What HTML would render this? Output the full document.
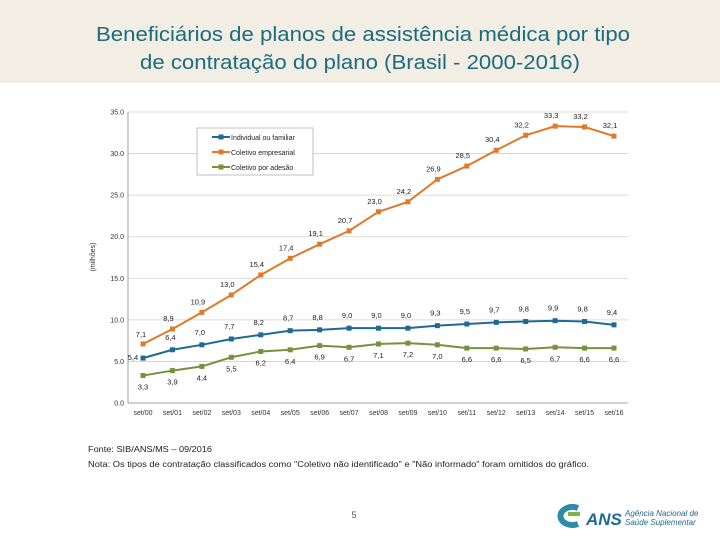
<!DOCTYPE html>
<html><head><meta charset="utf-8"><style>
body{margin:0;width:720px;height:540px;overflow:hidden;background:#fff;font-family:"Liberation Sans",sans-serif}
</style></head><body>
<svg id="s" width="720" height="540" xmlns="http://www.w3.org/2000/svg">
<rect x="0" y="0" width="720" height="83" fill="#F3EEE4"/>
<g fill="#1B6C7E" font-size="20" text-anchor="middle">
<text x="363" y="41" textLength="534" lengthAdjust="spacingAndGlyphs">Beneficiários de planos de assistência médica por tipo</text>
<text x="360" y="69" textLength="440" lengthAdjust="spacingAndGlyphs">de contratação do plano (Brasil - 2000-2016)</text>
</g>
<g id="chart"></g>
<g>
<rect x="197" y="128" width="116" height="47" fill="#fff" stroke="#999" stroke-width="0.6"/>
<g><line x1="212" y1="137" x2="230" y2="137" stroke="#1F6A92" stroke-width="2"/><rect x="218.5" y="134.5" width="5" height="5" fill="#1F6A92"/><text x="231" y="140" font-size="7" fill="#222">Individual ou familiar</text></g>
<g><line x1="212" y1="152" x2="230" y2="152" stroke="#E07A2A" stroke-width="2"/><rect x="218.5" y="149.5" width="5" height="5" fill="#E07A2A"/><text x="231" y="155" font-size="7" fill="#222">Coletivo empresarial</text></g>
<g><line x1="212" y1="167" x2="230" y2="167" stroke="#76923C" stroke-width="2"/><rect x="218.5" y="164.5" width="5" height="5" fill="#76923C"/><text x="231" y="170" font-size="7" fill="#222">Coletivo por adesão</text></g>
</g>
<text x="88" y="250" font-size="7" fill="#333" transform="rotate(-90 95 250)" text-anchor="middle">(milhões)</text>
<text x="88" y="452" font-size="8" fill="#222" textLength="124" lengthAdjust="spacingAndGlyphs">Fonte: SIB/ANS/MS – 09/2016</text>
<text x="88" y="467" font-size="8" fill="#222" textLength="501" lengthAdjust="spacingAndGlyphs">Nota: Os tipos de contratação classificados como "Coletivo não identificado" e "Não informado" foram omitidos do gráfico.</text>
<text x="354" y="518" font-size="9" fill="#555" text-anchor="middle">5</text>
<g>
<path d="M578 508 a12 9 0 1 0 0 16" fill="none" stroke="#2E8BA8" stroke-width="6"/>
<path d="M568 514 l12 0" stroke="#7AB648" stroke-width="4"/>
<text x="586" y="525" font-size="17" font-weight="bold" font-style="italic" fill="#1F6A92">ANS</text>
<text x="625" y="516" font-size="8" font-style="italic" fill="#1F6A92">Agência Nacional de</text>
<text x="625" y="525" font-size="8" font-style="italic" fill="#1F6A92">Saúde Suplementar</text>
</g>
</svg>
<script>
const categories=["set/00","set/01","set/02","set/03","set/04","set/05","set/06","set/07","set/08","set/09","set/10","set/11","set/12","set/13","set/14","set/15","set/16"];
const individual=[5.4,6.4,7.0,7.7,8.2,8.7,8.8,9.0,9.0,9.0,9.3,9.5,9.7,9.8,9.9,9.8,9.4];
const empresarial=[7.1,8.9,10.9,13.0,15.4,17.4,19.1,20.7,23.0,24.2,26.9,28.5,30.4,32.2,33.3,33.2,32.1];
const adesao=[3.3,3.9,4.4,5.5,6.2,6.4,6.9,6.7,7.1,7.2,7.0,6.6,6.6,6.5,6.7,6.6,6.6];
const yTicks=[0,5,10,15,20,25,30,35];
const NS="http://www.w3.org/2000/svg";
const g=document.getElementById('chart');
const X0=143,XS=(614-143)/16,Y0=403,YS=(403-112)/35;
const xs=i=>X0+i*XS, ys=v=>Y0-v*YS;
function mk(t,a){const e=document.createElementNS(NS,t);for(const k in a)e.setAttribute(k,a[k]);g.appendChild(e);return e;}
const fmt=v=>v.toFixed(1).replace('.',',');
yTicks.forEach(t=>{
 const l=mk('line',{x1:128,x2:628,y1:ys(t),y2:ys(t),stroke:t===0?'#888':'#d0d0d0','stroke-width':0.8});
 
 
 const tx=mk('text',{x:124,y:ys(t)+2.5,'font-size':7,fill:'#333','text-anchor':'end'});
 tx.textContent=t.toFixed(1);
 
 
});
const ax=mk('line',{x1:128,x2:128,y1:ys(35),y2:Y0,stroke:'#888','stroke-width':0.8});


categories.forEach((c,i)=>{
 const tx=mk('text',{x:xs(i),y:415,'font-size':7,fill:'#333','text-anchor':'middle'});
 tx.textContent=c;
 
 
});
function series(data,color,name,dy,dx){
 const p=mk('polyline',{points:data.map((v,i)=>xs(i)+','+ys(v)).join(' '),fill:'none',stroke:color,'stroke-width':2});
 
 
 data.forEach((v,i)=>{
  const r=mk('rect',{x:xs(i)-2.5,y:ys(v)-2.5,width:5,height:5,fill:color});
  
  
  let ox=dx,oy=dy;
  if(i===0&&name==='individual'){ox=-10;oy=2;}
  if(i===0&&name==='empresarial'){ox=-2;oy=-7;}
  const t=mk('text',{x:xs(i)+ox,y:ys(v)+oy,'font-size':7.5,fill:'#222','text-anchor':'middle'});
  t.textContent=fmt(v);
  
  
 });
}
series(empresarial,'#E07A2A','empresarial',-8,-4);
series(individual,'#1F6A92','individual',-10,-2);
series(adesao,'#76923C','adesao',14,0);
</script>
</body></html>
